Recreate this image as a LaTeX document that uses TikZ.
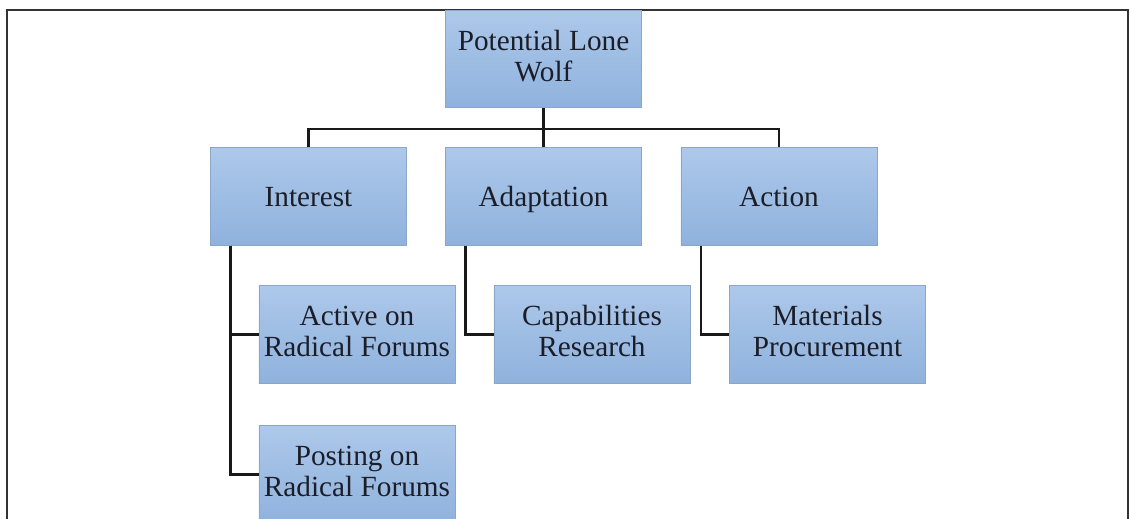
\documentclass[tikz,border=0pt]{standalone}
\usepackage{fontspec}
\setmainfont{Liberation Serif}
\usepackage{tikz}
\usetikzlibrary{positioning}
\usetikzlibrary{calc}
\definecolor{boxtop}{HTML}{ADC8EA}
\definecolor{boxbottom}{HTML}{8FB2DD}
\definecolor{boxline}{HTML}{8AA6C8}
\definecolor{boxtext}{HTML}{1B1E28}
\newcommand{\boxstrut}{\rule[-5pt]{0pt}{23.7pt}}
\tikzstyle{box}=[rectangle,draw=boxline,line width=0.6pt,top color=boxtop,bottom color=boxbottom,minimum width=4.9cm,minimum height=2.43cm,inner sep=0pt,align=center,text=boxtext,font=\fontsize{20.8}{22}\selectfont,execute at begin node={\boxstrut},execute at end node={\boxstrut}]
\tikzstyle{link} = [draw,line width=1.7pt,black!90]

\begin{document}
\begin{tikzpicture}[x=0.025cm,y=-0.025cm]
  \clip (0,0) rectangle (1131,519);
  % outer frame
  \draw[line width=1.5pt,black!80] (7,540) -- (7,10) -- (1128,10) -- (1128,540);

  \foreach \pos/\name/\label in {{(543.5,59)/wolf/{Potential Lone\\Wolf}},
      {(308.5,196.5)/interest/Interest}, {(543.5,196.5)/adaptation/Adaptation}, {(779,196.5)/action/Action},
      {(357,334.5)/active/{Active on\\Radical Forums}}, {(357,474.5)/posting/{Posting on\\Radical Forums}},
      {(592,334.5)/capabilities/{Capabilities\\Research}}, {(827.5,334.5)/materials/{Materials\\Procurement}}}
        \node[box] (\name) at \pos {\label};

  % top level links
  \path[link] (wolf.south) -- (adaptation.north);
  \foreach \dest in {interest, action}
          \path[link] (wolf.south) -- ++(0,21) -| (\dest.north);

  % side links to the lower boxes
  \foreach \source/ \dest in {interest/active, interest/posting, adaptation/capabilities, action/materials}
          \path[link] (\source.south west) ++(20.5,0) |- (\dest.west);
\end{tikzpicture}
\end{document}
